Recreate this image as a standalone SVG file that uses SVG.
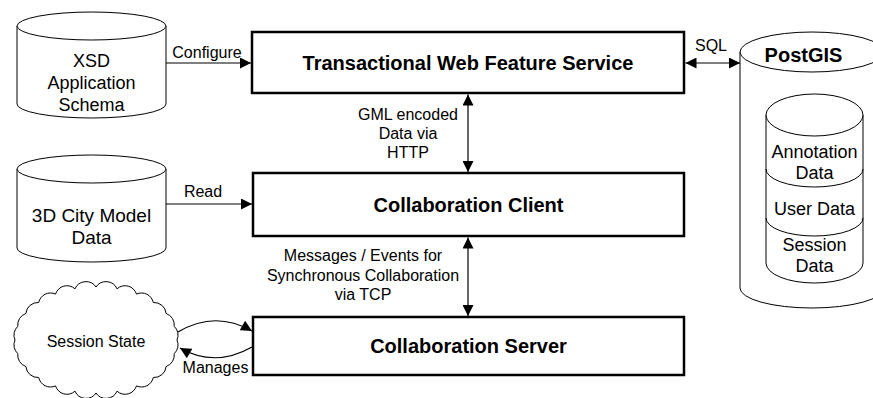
<svg xmlns="http://www.w3.org/2000/svg" width="873" height="398" viewBox="0 0 873 398">
<style>
text{font-family:"Liberation Sans",Arial,sans-serif;fill:#000}
.n{font-size:18px;text-anchor:middle}
.b{font-size:20px;font-weight:bold;text-anchor:middle}
.l{font-size:16px;text-anchor:middle}
.box{fill:#fff;stroke:#000;stroke-width:2.5}
.cyl{fill:#fff;stroke:#000;stroke-width:1}
.c{fill:none;stroke:#000;stroke-width:1.2}
</style>
<defs>
<marker id="ah" viewBox="0 0 10 10" refX="10" refY="5" markerWidth="12" markerHeight="11" markerUnits="userSpaceOnUse" orient="auto-start-reverse">
<path d="M0,0 L10,5 L0,10 Z" fill="#000"/>
</marker>
</defs>
<g id="xsd">
<path class="cyl" d="M17,26 L17,104 A74.5,14 0 0 0 166,104 L166,26"/>
<ellipse class="cyl" cx="91.5" cy="26" rx="74.5" ry="14"/>
<text class="n" x="91.5" y="67">XSD</text>
<text class="n" x="91.5" y="89">Application</text>
<text class="n" x="91.5" y="111">Schema</text>
</g>
<g id="citymodel">
<path class="cyl" d="M17,169 L17,248 A74.5,14 0 0 0 166,248 L166,169"/>
<ellipse class="cyl" cx="91.5" cy="169" rx="74.5" ry="14"/>
<text class="n" x="91.5" y="222" style="font-size:19px">3D City Model</text>
<text class="n" x="91.5" y="244" style="font-size:19px">Data</text>
</g>
<g id="sessionstate">
<path class="cyl" d="M177,340 A12,12 0 0 1 174.2,353.7 A12,12 0 0 1 166.1,366.5 A12,12 0 0 1 153.3,377.5 A12,12 0 0 1 136.5,385.9 A12,12 0 0 1 117,391.2 A12,12 0 0 1 96,393 A12,12 0 0 1 75,391.2 A12,12 0 0 1 55.5,385.9 A12,12 0 0 1 38.7,377.5 A12,12 0 0 1 25.9,366.5 A12,12 0 0 1 17.8,353.7 A12,12 0 0 1 15,340 A12,12 0 0 1 17.8,326.3 A12,12 0 0 1 25.9,313.5 A12,12 0 0 1 38.7,302.5 A12,12 0 0 1 55.5,294.1 A12,12 0 0 1 75,288.8 A12,12 0 0 1 96,287 A12,12 0 0 1 117,288.8 A12,12 0 0 1 136.5,294.1 A12,12 0 0 1 153.3,302.5 A12,12 0 0 1 166.1,313.5 A12,12 0 0 1 174.2,326.3 A12,12 0 0 1 177,340 Z"/>
<text class="l" x="96" y="347">Session State</text>
</g>
<g id="twfs">
<rect class="box" x="252" y="32" width="432" height="61"/>
<text class="b" x="468" y="69.5">Transactional Web Feature Service</text>
</g>
<g id="client">
<rect class="box" x="253" y="173" width="431" height="63"/>
<text class="b" x="468.5" y="211.5">Collaboration Client</text>
</g>
<g id="server">
<rect class="box" x="253" y="317" width="431" height="58"/>
<text class="b" x="468.5" y="353">Collaboration Server</text>
</g>
<g id="postgis">
<path class="cyl" d="M740,52 L740,288 A72,20 0 0 0 884,288 L884,52"/>
<ellipse class="cyl" cx="812" cy="52" rx="72" ry="20"/>
<text class="b" x="803.5" y="62">PostGIS</text>
<path class="cyl" d="M766,115 L766,263 A48.5,20 0 0 0 863,263 L863,115"/>
<ellipse class="cyl" cx="814.5" cy="115" rx="48.5" ry="21"/>
<path class="cyl" style="fill:none" d="M766,169 A48.5,18 0 0 0 863,169 M766,218 A48.5,18 0 0 0 863,218"/>
<text class="n" x="814.5" y="158">Annotation</text>
<text class="n" x="814.5" y="179">Data</text>
<text class="n" x="814.5" y="215">User Data</text>
<text class="n" x="814.5" y="251">Session</text>
<text class="n" x="814.5" y="272">Data</text>
</g>
<g id="connectors">
<line class="c" x1="166" y1="63" x2="251" y2="63" marker-end="url(#ah)"/>
<text class="l" x="207" y="58">Configure</text>
<line class="c" x1="166" y1="204" x2="252" y2="204" marker-end="url(#ah)"/>
<text class="l" x="203" y="197">Read</text>
<line class="c" x1="685.5" y1="63" x2="740" y2="63" marker-start="url(#ah)" marker-end="url(#ah)"/>
<text class="l" x="711" y="51">SQL</text>
<line class="c" x1="468" y1="94.5" x2="468" y2="172" marker-start="url(#ah)" marker-end="url(#ah)"/>
<text class="l" x="408" y="120">GML encoded</text>
<text class="l" x="408" y="139">Data via</text>
<text class="l" x="408" y="158">HTTP</text>
<line class="c" x1="468" y1="237.5" x2="468" y2="316" marker-start="url(#ah)" marker-end="url(#ah)"/>
<text class="l" x="363" y="261">Messages / Events for</text>
<text class="l" x="363" y="281">Synchronous Collaboration</text>
<text class="l" x="363" y="300">via TCP</text>
<path class="c" d="M178,332 Q215,310 252,331" marker-end="url(#ah)"/>
<path class="c" d="M252,347 Q215,368 180,348" marker-end="url(#ah)"/>
<text class="l" x="215.5" y="373">Manages</text>
</g>
</svg>
